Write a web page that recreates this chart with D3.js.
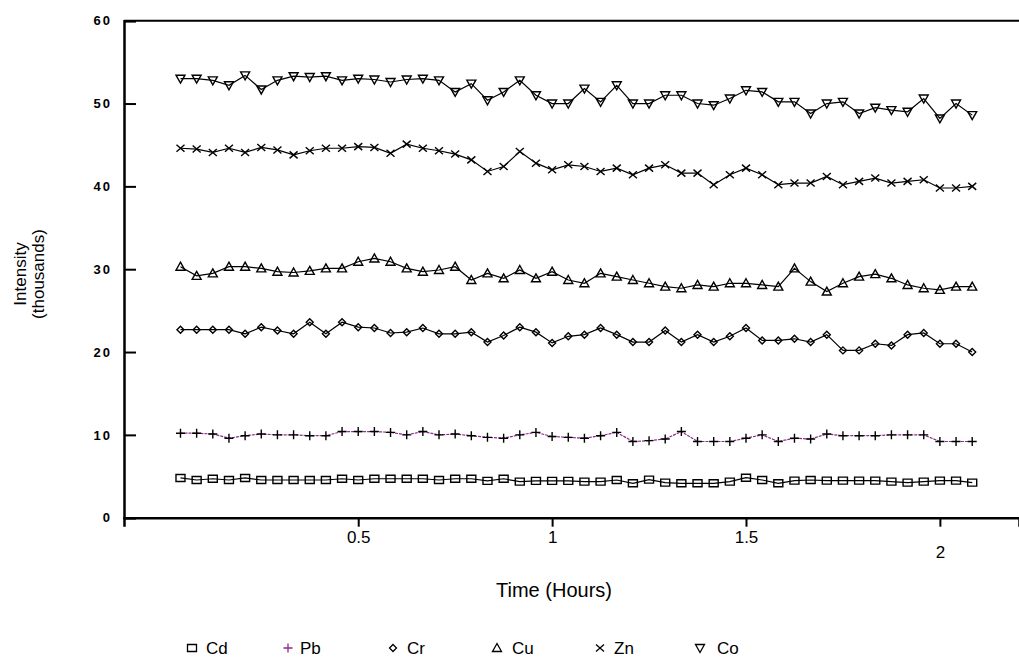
<!DOCTYPE html>
<html>
<head>
<meta charset="utf-8">
<script src="https://cdn.jsdelivr.net/npm/d3@7"></script>
<style>
  body { margin: 0; background: #fff; }
  text { font-family: "Liberation Sans Narrow", "Arial Narrow", "Liberation Sans", Arial, sans-serif; fill: #000; }
</style>
</head>
<body>
<svg id="chart" width="1019" height="658"></svg>
<script>
// Sampling times (minutes after start)
const minutes = [2.5, 5, 7.5, 10, 12.5, 15, 17.5, 20, 22.5, 25, 27.5, 30, 32.5, 35, 37.5, 40, 42.5, 45, 47.5, 50,
  52.5, 55, 57.5, 60, 62.5, 65, 67.5, 70, 72.5, 75, 77.5, 80, 82.5, 85, 87.5, 90, 92.5, 95, 97.5, 100,
  102.5, 105, 107.5, 110, 112.5, 115, 117.5, 120, 122.5, 125];

// Intensity readings (thousands of counts)
const cd = [4.8, 4.55, 4.7, 4.55, 4.8, 4.55, 4.55, 4.55, 4.55, 4.55, 4.7, 4.55, 4.7, 4.7, 4.7, 4.7, 4.55, 4.7, 4.7, 4.45,
  4.7, 4.35, 4.45, 4.45, 4.45, 4.35, 4.35, 4.55, 4.15, 4.6, 4.23, 4.15, 4.15, 4.15, 4.35, 4.83, 4.55, 4.15, 4.47, 4.55,
  4.47, 4.47, 4.47, 4.47, 4.35, 4.23, 4.35, 4.47, 4.47, 4.23];
const pb = [10.2, 10.2, 10.1, 9.6, 9.9, 10.1, 10.0, 10.0, 9.9, 9.9, 10.4, 10.4, 10.4, 10.3, 10.0, 10.4, 10.0, 10.1, 9.9, 9.7,
  9.6, 10.0, 10.3, 9.8, 9.7, 9.6, 9.9, 10.3, 9.2, 9.3, 9.5, 10.4, 9.2, 9.2, 9.2, 9.6, 10.0, 9.2, 9.6, 9.5,
  10.1, 9.9, 9.9, 9.9, 10.0, 10.0, 10.0, 9.2, 9.2, 9.2];
const cr = [22.7, 22.7, 22.7, 22.7, 22.2, 23.0, 22.6, 22.2, 23.6, 22.2, 23.6, 23.0, 22.9, 22.3, 22.4, 22.9, 22.2, 22.2, 22.4, 21.2,
  22.0, 23.0, 22.4, 21.1, 21.9, 22.1, 22.9, 22.1, 21.2, 21.2, 22.6, 21.2, 22.1, 21.2, 21.9, 22.9, 21.4, 21.4, 21.6, 21.2,
  22.1, 20.2, 20.2, 21.0, 20.8, 22.1, 22.3, 21.0, 21.0, 20.0];
const cu = [30.3, 29.2, 29.5, 30.3, 30.3, 30.1, 29.7, 29.6, 29.8, 30.1, 30.1, 30.9, 31.3, 30.9, 30.1, 29.7, 29.9, 30.3, 28.7, 29.5,
  28.9, 29.9, 28.9, 29.7, 28.7, 28.3, 29.5, 29.1, 28.7, 28.3, 27.9, 27.7, 28.1, 27.9, 28.3, 28.3, 28.1, 27.9, 30.1, 28.5,
  27.3, 28.3, 29.1, 29.4, 28.9, 28.1, 27.7, 27.5, 27.9, 27.9];
const zn = [44.6, 44.5, 44.1, 44.6, 44.1, 44.7, 44.4, 43.8, 44.3, 44.6, 44.6, 44.8, 44.7, 44.0, 45.1, 44.6, 44.3, 43.9, 43.2, 41.8,
  42.4, 44.2, 42.8, 42.0, 42.6, 42.4, 41.8, 42.2, 41.4, 42.2, 42.6, 41.6, 41.6, 40.2, 41.4, 42.2, 41.4, 40.2, 40.4, 40.4,
  41.2, 40.2, 40.6, 41.0, 40.4, 40.6, 40.8, 39.8, 39.8, 40.0];
const co = [53.0, 53.0, 52.8, 52.2, 53.4, 51.7, 52.8, 53.3, 53.2, 53.3, 52.8, 53.0, 52.9, 52.6, 52.9, 53.0, 52.8, 51.4, 52.4, 50.4,
  51.4, 52.8, 51.0, 50.0, 50.0, 51.8, 50.2, 52.2, 50.0, 50.0, 51.0, 51.0, 50.0, 49.8, 50.6, 51.6, 51.4, 50.2, 50.2, 48.8,
  50.0, 50.2, 48.8, 49.5, 49.2, 49.0, 50.6, 48.2, 50.0, 48.6];

const elements = ["Cd", "Pb", "Cr", "Cu", "Zn", "Co"];
const xTicks = [0.5, 1, 1.5, 2];
const xTickLabels = ["0.5", "1", "1.5", "2"];
const yTicks = [0, 10, 20, 30, 40, 50, 60];
const yTickLabels = ["0", "10", "20", "30", "40", "50", "60"];

const seriesValues = [cd, pb, cr, cu, zn, co];
const lineColors = { Cd: "#000", Pb: "#8a2c8a", Cr: "#000", Cu: "#000", Zn: "#000", Co: "#000" };
const markerColors = { Cd: "#000", Pb: "#000", Cr: "#000", Cu: "#000", Zn: "#000", Co: "#000" };

const svg = d3.select("#chart");
const W = 1019;
const plotLeft = 124, plotTop = 20.7, plotBottom = 517.7;

const x = d3.scaleLinear().domain([-0.104, 2.204]).range([plotLeft, W]);
const y = d3.scaleLinear().domain([0, 60]).range([plotBottom, plotTop]);

// Marker shapes, drawn around the origin
const markerPath = {
  Cd: "M-4.5,-3.5H4.5V3.5H-4.5Z",
  Pb: "M-4.5,0H4.5M0,-4.5V4.5",
  Cr: "M0,-3.5L3.5,0L0,3.5L-3.5,0Z",
  Cu: "M0,-4.5L4.5,3.5H-4.5Z",
  Zn: "M-4,-3.5L4,3.5M4,-3.5L-4,3.5",
  Co: "M-4.5,-3.5H4.5L0,4.5Z"
};

// Frame: top rule, left axis, bottom axis
svg.append("line").attr("x1", plotLeft).attr("x2", W).attr("y1", plotTop).attr("y2", plotTop)
  .attr("stroke", "#000").attr("stroke-width", 2);

const yAxis = d3.axisLeft(y).tickValues(yTicks).tickFormat((d, i) => yTickLabels[i])
  .tickSize(-12).tickPadding(12);
const gy = svg.append("g").attr("transform", `translate(${plotLeft},0)`).call(yAxis);
gy.select(".domain").attr("stroke-width", 2.5);
gy.selectAll(".tick line").attr("stroke-width", 2);
gy.selectAll(".tick text").attr("font-size", 13).attr("font-weight", "bold")
  .attr("letter-spacing", 2)
  .attr("font-family", "'DejaVu Sans', sans-serif");

const xAxis = d3.axisBottom(x).tickValues(xTicks).tickFormat((d, i) => xTickLabels[i])
  .tickSizeOuter(0).tickSize(9).tickPadding(4);
const gx = svg.append("g").attr("transform", `translate(0,${plotBottom})`).call(xAxis);
gx.select(".domain").attr("stroke-width", 2.5);
gx.selectAll(".tick line").attr("stroke-width", 2);
gx.selectAll(".tick text").attr("font-size", 17);
gx.selectAll(".tick text").filter(d => d === 2).attr("dy", "1.6em");

// Series lines and markers
const hours = minutes.map(m => m / 60);
elements.forEach((name, si) => {
  const pts = hours.map((h, i) => [h, seriesValues[si][i]]);
  const line = d3.line().x(d => x(d[0])).y(d => y(d[1]));
  svg.append("path").datum(pts)
    .attr("d", line)
    .attr("fill", "none")
    .attr("stroke", lineColors[name])
    .attr("stroke-width", 1.2)
    .attr("stroke-dasharray", name === "Pb" ? "3,1" : null);
  svg.append("g").selectAll("path").data(pts).join("path")
    .attr("transform", d => `translate(${x(d[0])},${y(d[1])})`)
    .attr("d", markerPath[name])
    .attr("fill", "none")
    .attr("stroke", markerColors[name])
    .attr("stroke-width", 1.4);
});

// Axis titles
svg.append("text").attr("x", 554).attr("y", 597).attr("text-anchor", "middle")
  .attr("font-size", 20).text("Time (Hours)");
const yTitle = svg.append("text").attr("transform", "translate(26,274) rotate(-90)")
  .attr("text-anchor", "middle").attr("font-size", 17);
yTitle.append("tspan").attr("x", 0).attr("dy", 0).text("Intensity");
yTitle.append("tspan").attr("x", 0).attr("dy", 18).text("(thousands)");

// Legend
const legendX = [192, 288, 393, 497, 600, 700];
const legendTextX = [206, 300, 407, 512, 614, 717];
const legendY = 648;
const legendColors = { Cd: "#000", Pb: "#8a2c8a", Cr: "#000", Cu: "#000", Zn: "#000", Co: "#000" };
elements.forEach((name, i) => {
  svg.append("path").attr("transform", `translate(${legendX[i]},${legendY})`)
    .attr("d", markerPath[name]).attr("fill", "none")
    .attr("stroke", legendColors[name]).attr("stroke-width", 1.3);
  svg.append("text").attr("x", legendTextX[i]).attr("y", legendY + 6)
    .attr("font-size", 17).text(name);
});
</script>
</body>
</html>
